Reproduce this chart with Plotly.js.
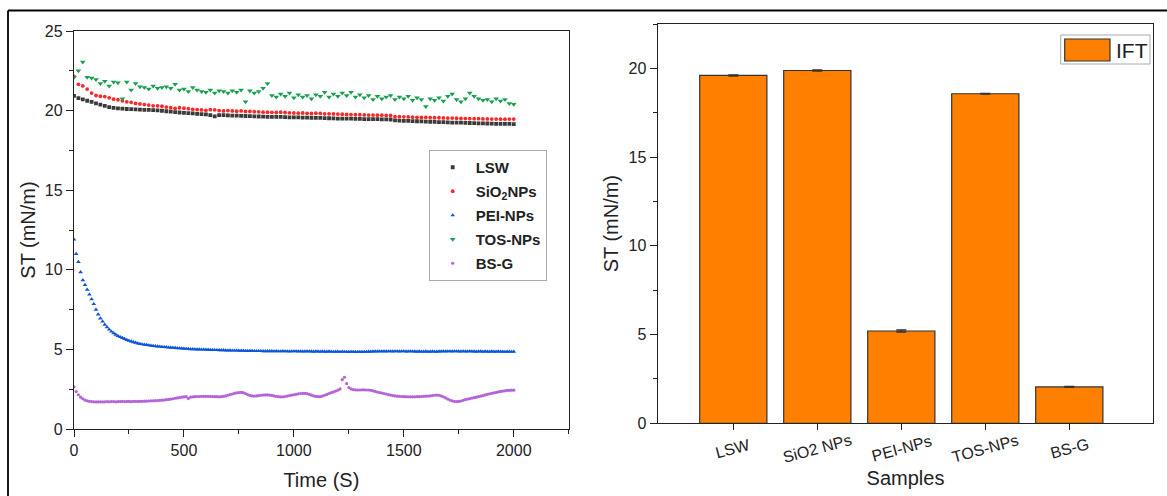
<!DOCTYPE html>
<html>
<head>
<meta charset="utf-8">
<script src="https://cdn.plot.ly/plotly-3.0.1.min.js"></script>
<style>html,body{margin:0;padding:0;background:#fff;}#chart{width:1167px;height:496px;}</style>
</head>
<body>
<div id="chart"></div>
<script>
// ---------- DATA ----------
// time axis, 20 s step (LSW, SiO2, TOS)
const time20 = [0,
  20,40,60,80,100,120,140,160,180,200,
  220,240,260,280,300,320,340,360,380,400,
  420,440,460,480,500,520,540,560,580,600,
  620,640,660,680,700,720,740,760,780,800,
  820,840,860,880,900,920,940,960,980,1000,
  1020,1040,1060,1080,1100,1120,1140,1160,1180,1200,
  1220,1240,1260,1280,1300,1320,1340,1360,1380,1400,
  1420,1440,1460,1480,1500,1520,1540,1560,1580,1600,
  1620,1640,1660,1680,1700,1720,1740,1760,1780,1800,
  1820,1840,1860,1880,1900,1920,1940,1960,1980,2000];
// time axis, 10 s step (PEI, BS-G)
const time10 = [0,
  10,20,30,40,50,60,70,80,90,100,
  110,120,130,140,150,160,170,180,190,200,
  210,220,230,240,250,260,270,280,290,300,
  310,320,330,340,350,360,370,380,390,400,
  410,420,430,440,450,460,470,480,490,500,
  510,520,530,540,550,560,570,580,590,600,
  610,620,630,640,650,660,670,680,690,700,
  710,720,730,740,750,760,770,780,790,800,
  810,820,830,840,850,860,870,880,890,900,
  910,920,930,940,950,960,970,980,990,1000,
  1010,1020,1030,1040,1050,1060,1070,1080,1090,1100,
  1110,1120,1130,1140,1150,1160,1170,1180,1190,1200,
  1210,1220,1230,1240,1250,1260,1270,1280,1290,1300,
  1310,1320,1330,1340,1350,1360,1370,1380,1390,1400,
  1410,1420,1430,1440,1450,1460,1470,1480,1490,1500,
  1510,1520,1530,1540,1550,1560,1570,1580,1590,1600,
  1610,1620,1630,1640,1650,1660,1670,1680,1690,1700,
  1710,1720,1730,1740,1750,1760,1770,1780,1790,1800,
  1810,1820,1830,1840,1850,1860,1870,1880,1890,1900,
  1910,1920,1930,1940,1950,1960,1970,1980,1990,2000];

const lswST = [20.92,
  20.78,20.70,20.62,20.55,20.45,20.38,20.30,20.22,20.17,20.14,
  20.12,20.10,20.09,20.08,20.06,20.05,20.04,20.03,20.01,19.99,
  19.96,19.93,19.90,19.88,19.86,19.84,19.82,19.80,19.78,19.76,
  19.72,19.64,19.72,19.72,19.70,19.69,19.68,19.67,19.66,19.65,
  19.64,19.63,19.62,19.61,19.60,19.60,19.60,19.59,19.58,19.58,
  19.57,19.56,19.56,19.55,19.54,19.54,19.53,19.52,19.51,19.50,
  19.50,19.49,19.49,19.48,19.48,19.47,19.47,19.46,19.46,19.45,
  19.45,19.44,19.38,19.37,19.36,19.35,19.34,19.33,19.32,19.31,
  19.30,19.29,19.28,19.27,19.26,19.25,19.24,19.24,19.23,19.22,
  19.21,19.20,19.20,19.19,19.18,19.17,19.17,19.16,19.16,19.15];

const sio2ST = [22.15,
  21.65,21.55,21.35,21.10,20.95,20.90,20.88,20.80,20.72,20.68,
  20.62,20.55,20.52,20.45,20.42,20.38,20.35,20.30,20.30,20.28,
  20.22,20.18,20.14,20.18,20.15,20.12,20.08,20.06,20.04,20.02,
  20.06,20.05,20.00,19.98,20.00,19.98,19.96,19.98,19.95,19.95,
  19.93,19.92,19.90,19.90,19.89,19.88,19.90,19.88,19.86,19.85,
  19.84,19.85,19.83,19.82,19.84,19.82,19.80,19.80,19.79,19.78,
  19.77,19.76,19.75,19.74,19.74,19.73,19.72,19.72,19.71,19.71,
  19.70,19.70,19.62,19.62,19.61,19.60,19.59,19.58,19.57,19.57,
  19.56,19.55,19.55,19.54,19.53,19.53,19.52,19.51,19.50,19.50,
  19.49,19.49,19.48,19.48,19.47,19.47,19.46,19.46,19.47,19.47];

const tosST = [22.10,
  22.50,23.05,22.10,22.05,21.95,21.70,21.85,21.55,21.80,21.75,
  20.75,21.80,21.30,21.70,21.50,21.45,21.35,21.55,21.40,21.45,
  21.50,21.40,21.65,21.30,21.35,21.20,21.45,21.30,21.20,21.15,
  21.30,21.10,21.25,21.20,21.10,21.25,21.15,21.30,20.55,21.25,
  21.10,21.20,21.40,21.70,20.95,20.85,21.05,20.90,21.10,20.80,
  21.00,20.85,20.95,20.75,21.00,20.90,21.15,20.85,21.05,20.90,
  21.10,20.95,21.15,20.85,21.00,20.80,20.95,20.70,20.90,20.75,
  20.85,20.95,20.70,20.85,20.75,20.90,20.65,20.80,20.70,20.25,
  20.75,20.65,20.80,20.60,20.90,21.05,20.70,20.55,20.75,21.10,
  20.90,20.75,20.65,20.70,20.55,20.75,20.60,20.70,20.45,20.40];

const peiST = [11.90,
  11.00,10.50,9.85,9.35,9.05,8.75,8.45,8.15,7.85,7.50,
  7.20,6.95,6.75,6.55,6.40,6.25,6.12,6.02,5.93,5.85,
  5.78,5.72,5.66,5.60,5.55,5.50,5.46,5.42,5.38,5.35,
  5.32,5.30,5.28,5.26,5.24,5.22,5.20,5.19,5.18,5.16,
  5.15,5.14,5.12,5.11,5.10,5.09,5.08,5.07,5.06,5.05,
  5.04,5.03,5.02,5.02,5.01,5.00,5.00,4.99,4.99,4.98,
  4.98,4.97,4.97,4.96,4.96,4.95,4.95,4.95,4.94,4.94,
  4.94,4.93,4.93,4.93,4.92,4.92,4.92,4.91,4.91,4.91,
  4.91,4.90,4.90,4.90,4.90,4.89,4.89,4.89,4.89,4.89,
  4.88,4.89,4.88,4.88,4.89,4.88,4.88,4.87,4.88,4.88,
  4.88,4.87,4.88,4.87,4.87,4.88,4.87,4.87,4.86,4.87,
  4.87,4.86,4.87,4.86,4.86,4.87,4.86,4.85,4.86,4.86,
  4.85,4.86,4.85,4.85,4.84,4.85,4.85,4.84,4.84,4.85,
  4.84,4.85,4.85,4.86,4.86,4.87,4.87,4.87,4.88,4.87,
  4.88,4.87,4.88,4.88,4.87,4.88,4.88,4.87,4.88,4.88,
  4.87,4.87,4.88,4.87,4.87,4.86,4.87,4.86,4.86,4.87,
  4.86,4.86,4.87,4.86,4.86,4.87,4.87,4.88,4.87,4.88,
  4.88,4.87,4.88,4.88,4.87,4.87,4.88,4.87,4.87,4.88,
  4.87,4.87,4.86,4.87,4.87,4.86,4.87,4.86,4.86,4.87,
  4.86,4.86,4.87,4.86,4.86,4.85,4.86,4.86,4.85,4.86];

const bsgST = [2.65,
  2.35,2.15,2.00,1.90,1.82,1.77,1.74,1.72,1.71,1.70,
  1.70,1.71,1.70,1.71,1.72,1.71,1.72,1.72,1.71,1.72,
  1.72,1.73,1.72,1.73,1.73,1.72,1.73,1.74,1.73,1.74,
  1.74,1.75,1.75,1.76,1.77,1.77,1.78,1.79,1.80,1.81,
  1.82,1.84,1.86,1.88,1.90,1.93,1.95,1.98,2.00,2.02,
  2.03,1.92,2.00,2.02,2.03,2.04,2.04,2.05,2.05,2.05,
  2.05,2.04,2.04,2.03,2.03,2.02,2.03,2.05,2.08,2.12,
  2.16,2.20,2.24,2.27,2.29,2.30,2.28,2.22,2.16,2.11,
  2.08,2.07,2.08,2.10,2.12,2.13,2.14,2.14,2.13,2.11,
  2.08,2.05,2.03,2.02,2.02,2.04,2.07,2.10,2.13,2.15,
  2.18,2.21,2.23,2.24,2.24,2.22,2.18,2.13,2.08,2.05,
  2.03,2.03,2.07,2.12,2.17,2.23,2.28,2.33,2.38,2.44,
  2.52,3.10,3.25,2.85,2.60,2.52,2.48,2.46,2.45,2.45,
  2.46,2.46,2.45,2.45,2.43,2.40,2.36,2.32,2.29,2.26,
  2.23,2.20,2.16,2.13,2.10,2.08,2.06,2.05,2.04,2.03,
  2.03,2.02,2.02,2.02,2.02,2.03,2.03,2.04,2.05,2.06,
  2.07,2.08,2.10,2.12,2.13,2.12,2.08,2.02,1.95,1.88,
  1.82,1.77,1.73,1.72,1.73,1.76,1.80,1.84,1.88,1.91,
  1.94,1.97,2.00,2.03,2.06,2.10,2.14,2.18,2.21,2.24,
  2.27,2.30,2.33,2.36,2.38,2.40,2.42,2.43,2.44,2.44];

const seriesNames = ['LSW', 'SiO<sub>2</sub>NPs', 'PEI-NPs', 'TOS-NPs', 'BS-G'];

const barCategories = ['LSW', 'SiO2 NPs', 'PEI-NPs', 'TOS-NPs', 'BS-G'];
const barValues = [19.6, 19.88, 5.2, 18.57, 2.05];
const barErrors = [0.03, 0.03, 0.06, 0.02, 0.02];
const barName = 'IFT';

// ---------- LAYOUT HELPERS ----------
const W = 1167, H = 496;
const px = x => x / W;
const py = y => 1 - y / H;
const FONT = 'Liberation Sans, Arial, sans-serif';
const INK = '#222';

function scatterTrace(x, y, name, group, color, symbol, size) {
  return {
    type: 'scatter', mode: 'markers', x: x, y: y,
    name: '<b>' + name + '</b>', legendgroup: group,
    xaxis: 'x', yaxis: 'y',
    marker: {color: color, symbol: symbol, size: size, line: {width: 0}}
  };
}

const traces = [
  scatterTrace(time20, lswST, seriesNames[0], 'g1', '#3a3a3a', 'square', 3.8),
  scatterTrace(time20, sio2ST, seriesNames[1], 'g2', '#f42a2a', 'circle', 3.8),
  scatterTrace(time10, peiST, seriesNames[2], 'g3', '#0a55d8', 'triangle-up', 4.2),
  scatterTrace(time20, tosST, seriesNames[3], 'g4', '#17a050', 'triangle-down', 5),
  scatterTrace(time10, bsgST, seriesNames[4], 'g5', '#b464d8', 'circle', 3.2),
  {
    type: 'bar', x: barCategories, y: barValues, name: barName,
    xaxis: 'x2', yaxis: 'y2', width: 0.8, showlegend: false,
    marker: {color: '#ff8000', line: {color: '#333', width: 1.2}},
    error_y: {type: 'data', array: barErrors, visible: true, color: '#333', thickness: 1.5, width: 5}
  }
];

const axisCommon = {
  showline: true, linecolor: INK, linewidth: 1.3, mirror: true,
  showgrid: false, zeroline: false,
  ticks: 'outside', ticklen: 7, tickwidth: 1.3, tickcolor: INK,
  tickfont: {family: FONT, size: 16, color: INK},
  automargin: false
};
const TITLE_FONT = {family: FONT, size: 20, color: INK};

const annotations = barCategories.map(c => ({
  xref: 'x2', yref: 'paper', x: c, y: py(448),
  text: c, showarrow: false, textangle: -15,
  xanchor: 'center', yanchor: 'middle',
  font: {family: FONT, size: 16, color: INK}
}));
annotations.push({
  xref: 'paper', yref: 'paper', x: px(1114), y: py(50),
  text: barName, showarrow: false, xanchor: 'left', yanchor: 'middle',
  font: {family: FONT, size: 21, color: INK}
});

const shapes = [
  // outer figure frame (top + left)
  {type: 'line', xref: 'paper', yref: 'paper', x0: px(8), x1: 1, y0: py(10.5), y1: py(10.5), line: {color: '#000', width: 1.8}},
  {type: 'line', xref: 'paper', yref: 'paper', x0: px(8), x1: px(8), y0: py(10.5), y1: 0, line: {color: '#000', width: 1.8}},
  // IFT legend box + swatch
  {type: 'rect', xref: 'paper', yref: 'paper', x0: px(1060.7), x1: px(1150), y0: py(64), y1: py(35), line: {color: '#aaa', width: 1}, fillcolor: '#fff'},
  {type: 'rect', xref: 'paper', yref: 'paper', x0: px(1064.7), x1: px(1110), y0: py(61), y1: py(39), line: {color: '#333', width: 1.2}, fillcolor: '#ff8000'}
];

const layout = {
  width: W, height: H,
  margin: {l: 0, r: 0, t: 0, b: 0},
  paper_bgcolor: '#fff', plot_bgcolor: '#fff',
  font: {family: FONT, color: INK},
  showlegend: true,
  legend: {
    x: px(428.7), y: py(150), xanchor: 'left', yanchor: 'top',
    bgcolor: '#fff', bordercolor: '#aaa', borderwidth: 1,
    font: {family: FONT, size: 15, color: INK},
    tracegroupgap: 1.5, itemwidth: 36
  },
  xaxis: Object.assign({}, axisCommon, {
    domain: [px(74), px(568.7)], anchor: 'y',
    range: [0, 2250], tick0: 0, dtick: 500,
    minor: {dtick: 250, ticks: 'outside', ticklen: 4, tickwidth: 1.3, tickcolor: INK},
    title: {text: 'Time (S)', font: TITLE_FONT, standoff: 14}
  }),
  yaxis: Object.assign({}, axisCommon, {
    domain: [py(429), py(31)], anchor: 'x',
    range: [0, 25], tick0: 0, dtick: 5,
    minor: {dtick: 2.5, ticks: 'outside', ticklen: 4, tickwidth: 1.3, tickcolor: INK},
    title: {text: 'ST (mN/m)', font: TITLE_FONT, standoff: 3}
  }),
  xaxis2: Object.assign({}, axisCommon, {
    domain: [px(657.7), px(1153.3)], anchor: 'y2',
    type: 'category', range: [-0.9, 5.0],
    showticklabels: false, ticklen: 6,
    title: {text: 'Samples', font: TITLE_FONT, standoff: 41}
  }),
  yaxis2: Object.assign({}, axisCommon, {
    domain: [py(423.3), py(24)], anchor: 'x2',
    range: [0, 22.5], tick0: 0, dtick: 5,
    minor: {dtick: 2.5, ticks: 'outside', ticklen: 4, tickwidth: 1.3, tickcolor: INK},
    title: {text: 'ST (mN/m)', font: TITLE_FONT, standoff: 4}
  }),
  shapes: shapes,
  annotations: annotations
};

Plotly.newPlot('chart', traces, layout, {displayModeBar: false, responsive: false});
</script>
</body>
</html>
